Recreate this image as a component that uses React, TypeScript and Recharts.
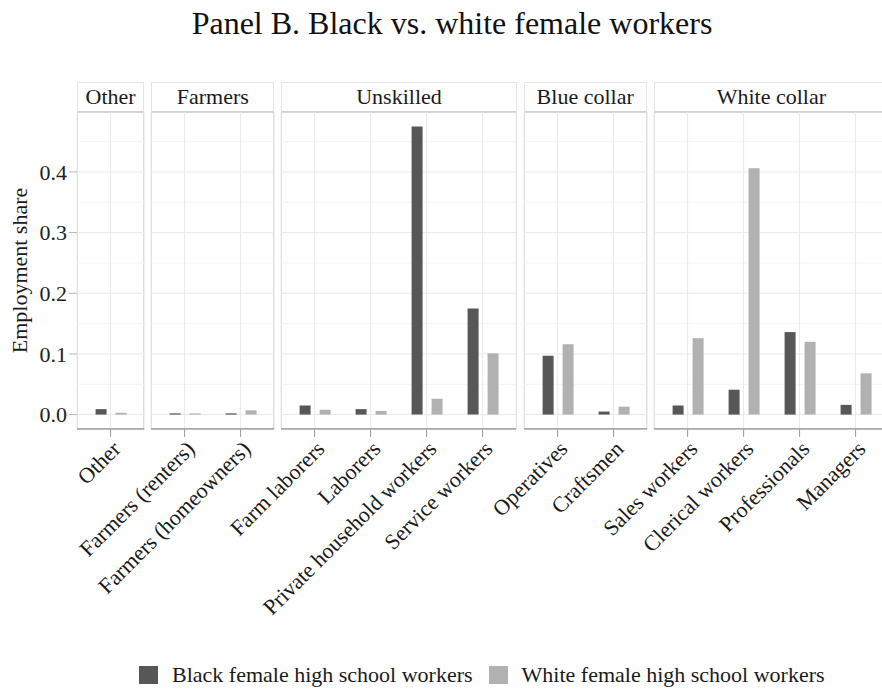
import { BarChart, Bar, XAxis, YAxis, CartesianGrid } from 'recharts';

const occupations = [
  'Other',
  'Farmers (renters)',
  'Farmers (homeowners)',
  'Farm laborers',
  'Laborers',
  'Private household workers',
  'Service workers',
  'Operatives',
  'Craftsmen',
  'Sales workers',
  'Clerical workers',
  'Professionals',
  'Managers',
];
const occupationGroup = [
  'Other',
  'Farmers',
  'Farmers',
  'Unskilled',
  'Unskilled',
  'Unskilled',
  'Unskilled',
  'Blue collar',
  'Blue collar',
  'White collar',
  'White collar',
  'White collar',
  'White collar',
];
const blackShare = [0.009, 0.002, 0.002, 0.015, 0.009, 0.475, 0.175, 0.097, 0.005, 0.015, 0.041, 0.136, 0.016];
const whiteShare = [0.003, 0.002, 0.007, 0.008, 0.006, 0.026, 0.101, 0.116, 0.013, 0.126, 0.406, 0.12, 0.068];
const panels = ['Other', 'Farmers', 'Unskilled', 'Blue collar', 'White collar'];
const yTicks = [0, 0.1, 0.2, 0.3, 0.4];
const yMinorTicks = [0.05, 0.15, 0.25, 0.35, 0.45];
const seriesNames = ['Black female high school workers', 'White female high school workers'];

const FONT = '"Liberation Serif", "DejaVu Serif", serif';
const BLACK = '#575757';
const WHITE = '#b1b1b1';

// layout (ggplot-ish facet with free x space)
const UNIT = 56;
const PANEL_GAP = 7;
const FIRST_LEFT = 77;
const PLOT_TOP = 112;
const PLOT_H = 317;
const STRIP_H = 30;
const AXIS_H = 200;

const rows = occupations.map((name, i) => ({
  name,
  group: occupationGroup[i],
  black: blackShare[i],
  white: whiteShare[i],
}));

const maxVal = Math.max(...blackShare, ...whiteShare);
const yDomain = [-0.05 * maxVal, maxVal * 1.05];

function AngledTick({ x, y, payload }: any) {
  return (
    <text
      x={x}
      y={y}
      transform={`rotate(-45 ${x} ${y})`}
      textAnchor="end"
      dominantBaseline="hanging"
      fontSize={22}
      fontFamily={FONT}
      fill="#1a1a1a"
    >
      {payload.value}
    </text>
  );
}

function Panel({ name, left, first }: { name: string; left: number; first: boolean }) {
  const data = rows.filter((r) => r.group === name);
  const w = (data.length + 0.2) * UNIT;
  const yw = first ? FIRST_LEFT : 0;
  return (
    <>
      <div
        style={{
          position: 'absolute',
          left,
          top: PLOT_TOP - STRIP_H,
          width: w,
          height: STRIP_H,
          boxSizing: 'border-box',
          border: '1px solid #e4e4e4',
          borderBottom: '1px solid #d2d2d2',
          textAlign: 'center',
          fontSize: 22,
          lineHeight: `${STRIP_H - 2}px`,
          color: '#1a1a1a',
        }}
      >
        {name}
      </div>
      <div
        style={{
          position: 'absolute',
          left,
          top: PLOT_TOP,
          width: w,
          height: PLOT_H,
          boxSizing: 'border-box',
          border: '1px solid #d9d9d9',
        }}
      />
      <div style={{ position: 'absolute', left: left - yw, top: PLOT_TOP }}>
        <BarChart
          width={w + yw}
          height={PLOT_H + AXIS_H}
          data={data}
          margin={{ top: 0, right: 0, bottom: 0, left: 0 }}
          barGap={9}
        >
          <CartesianGrid horizontalValues={yMinorTicks} vertical={false} stroke="#f3f3f3" />
          <CartesianGrid horizontalValues={yTicks} stroke="#e9e9e9" />
          <XAxis
            dataKey="name"
            interval={0}
            padding={{ left: UNIT * 0.1, right: UNIT * 0.1 }}
            height={AXIS_H}
            tickSize={8}
            tickMargin={2}
            tickLine={{ stroke: '#9a9a9a' }}
            axisLine={{ stroke: '#7a7a7a' }}
            tick={<AngledTick />}
          />
          {first ? (
            <YAxis
              width={yw}
              domain={yDomain}
              ticks={yTicks}
              tickFormatter={(v: number) => v.toFixed(1)}
              tickSize={8}
              tickMargin={2}
              tickLine={{ stroke: '#b5b5b5' }}
              axisLine={false}
              tick={{ fontSize: 22, fill: '#222', fontFamily: FONT }}
              label={{
                value: 'Employment share',
                angle: -90,
                position: 'insideLeft',
                offset: 19,
                style: { textAnchor: 'middle', fontSize: 22, fill: '#1a1a1a', fontFamily: FONT },
              }}
            />
          ) : (
            <YAxis hide domain={yDomain} ticks={yTicks} />
          )}
          <Bar dataKey="black" name={seriesNames[0]} fill={BLACK} barSize={11} isAnimationActive={false} />
          <Bar dataKey="white" name={seriesNames[1]} fill={WHITE} barSize={11} isAnimationActive={false} />
        </BarChart>
      </div>
    </>
  );
}

export default function App() {
  let left = FIRST_LEFT;
  const lefts = panels.map((p) => {
    const n = rows.filter((r) => r.group === p).length;
    const l = left;
    left += (n + 0.2) * UNIT + PANEL_GAP;
    return l;
  });
  return (
    <div
      style={{
        position: 'absolute',
        left: 0,
        top: 0,
        width: 882,
        height: 691,
        overflow: 'hidden',
        background: '#fff',
        fontFamily: FONT,
      }}
    >
      <style>{`.recharts-surface{overflow:visible}`}</style>
      <div
        style={{
          position: 'absolute',
          top: 4,
          left: 0,
          width: 904,
          textAlign: 'center',
          fontSize: 32,
          lineHeight: '38px',
          color: '#111',
        }}
      >
        Panel B. Black vs. white female workers
      </div>
      {panels.map((p, i) => (
        <Panel key={p} name={p} left={lefts[i]} first={i === 0} />
      ))}
      <div
        style={{
          position: 'absolute',
          left: 139,
          top: 664,
          height: 22,
          display: 'flex',
          alignItems: 'center',
          fontSize: 22,
          color: '#1a1a1a',
          whiteSpace: 'nowrap',
        }}
      >
        {seriesNames.map((s, i) => (
          <div key={s} style={{ display: 'flex', alignItems: 'center', marginRight: 16 }}>
            <div style={{ width: 19, height: 18, background: i === 0 ? BLACK : WHITE, marginRight: 14 }} />
            <span>{s}</span>
          </div>
        ))}
      </div>
    </div>
  );
}
